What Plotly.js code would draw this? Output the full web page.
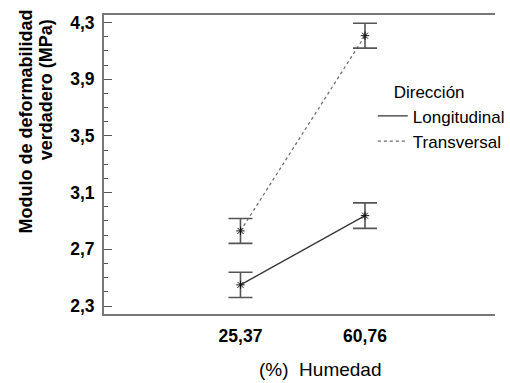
<!DOCTYPE html>
<html><head><meta charset="utf-8">
<script src="https://cdn.plot.ly/plotly-3.0.1.min.js"></script>
<style>html,body{margin:0;padding:0;background:#fff;overflow:hidden}#chart{width:510px;height:383px}</style>
</head><body><div id="chart"></div>
<script>
const categories = ["25,37", "60,76"];
const longitudinal = [2.449, 2.938];
const longitudinalErr = [0.089, 0.090];
const transversal = [2.830, 4.208];
const transversalErr = [0.088, 0.088];
const seriesNames = ["Longitudinal", "Transversal"];
const legendTitle = "Dirección";
const yTitleLines = ["Modulo de deformabilidad", "verdadero (MPa)"];
const xTitle = "(%)&nbsp;&nbsp;Humedad";

const FONT = "Liberation Sans, Arial, sans-serif";
function lineTrace(y, name, color, dash) {
  return {x: categories, y: y, name: name, type: 'scatter', mode: 'lines',
    line: {color: color, width: 1.2, dash: dash}, showlegend: true, hoverinfo: 'skip'};
}
function markTrace(y, err, name) {
  return {x: categories, y: y, name: name, type: 'scatter', mode: 'markers', showlegend: false,
    marker: {symbol: 'asterisk-open', size: 7, color: '#111', line: {width: 1, color: '#111'}},
    error_y: {type: 'data', array: err, visible: true, color: '#555', thickness: 1.6, width: 12}};
}
const data = [
  lineTrace(longitudinal, seriesNames[0], '#333', 'solid'),
  lineTrace(transversal, seriesNames[1], '#666', '3px,3px'),
  markTrace(longitudinal, longitudinalErr, seriesNames[0]),
  markTrace(transversal, transversalErr, seriesNames[1])
];
const layout = {
  width: 510, height: 383,
  margin: {l: 104, r: 0, t: 15, b: 69},
  paper_bgcolor: '#fff', plot_bgcolor: '#fff',
  separators: ',.',
  font: {family: FONT, color: '#000'},
  showlegend: true,
  legend: {x: 0.6875, y: 0.795, xanchor: 'left', yanchor: 'top', bgcolor: 'rgba(0,0,0,0)',
    font: {family: FONT, size: 17, color: '#000'},
    title: {text: '&nbsp;&nbsp;&nbsp;&nbsp;' + legendTitle, font: {family: FONT, size: 17, color: '#000'}},
    tracegroupgap: 0, itemwidth: 30},
  xaxis: {type: 'category', range: [-1.096, 2.044], showgrid: false, zeroline: false,
    showline: true, linecolor: '#777', linewidth: 2, mirror: true, ticks: '',
    tickfont: {family: FONT, size: 17.5, color: '#000', weight: 'bold'}, ticklabelstandoff: 5},
  yaxis: {range: [2.2435, 4.354], tick0: 2.3, dtick: 0.4, tickformat: '.1f',
    showgrid: false, zeroline: false, showline: true, linecolor: '#777', linewidth: 2, mirror: false,
    ticks: 'inside', ticklen: 8, tickcolor: '#555', tickwidth: 1,
    minor: {dtick: 0.1, tick0: 2.3, ticks: 'inside', ticklen: 4, tickcolor: '#555', tickwidth: 1, showgrid: false},
    tickfont: {family: FONT, size: 17.5, color: '#000', weight: 'bold'}, ticklabelstandoff: 4},
  annotations: [
    {text: yTitleLines[0], xref: 'paper', yref: 'paper', x: (23 - 104) / 406, y: (314 - 121.5) / 299,
      xanchor: 'center', yanchor: 'middle', textangle: -90, showarrow: false,
      font: {family: FONT, size: 18, color: '#000', weight: 'bold'}},
    {text: yTitleLines[1], xref: 'paper', yref: 'paper', x: (44 - 104) / 406, y: (314 - 90) / 299,
      xanchor: 'center', yanchor: 'middle', textangle: -90, showarrow: false,
      font: {family: FONT, size: 18, color: '#000', weight: 'bold'}},
    {text: xTitle, xref: 'paper', yref: 'paper', x: (329 - 104) / 406, y: (314 - 370) / 299,
      xanchor: 'center', yanchor: 'middle', showarrow: false,
      font: {family: FONT, size: 19, color: '#000'}}
  ]
};
Plotly.newPlot('chart', data, layout, {displayModeBar: false, staticPlot: true});
</script></body></html>
